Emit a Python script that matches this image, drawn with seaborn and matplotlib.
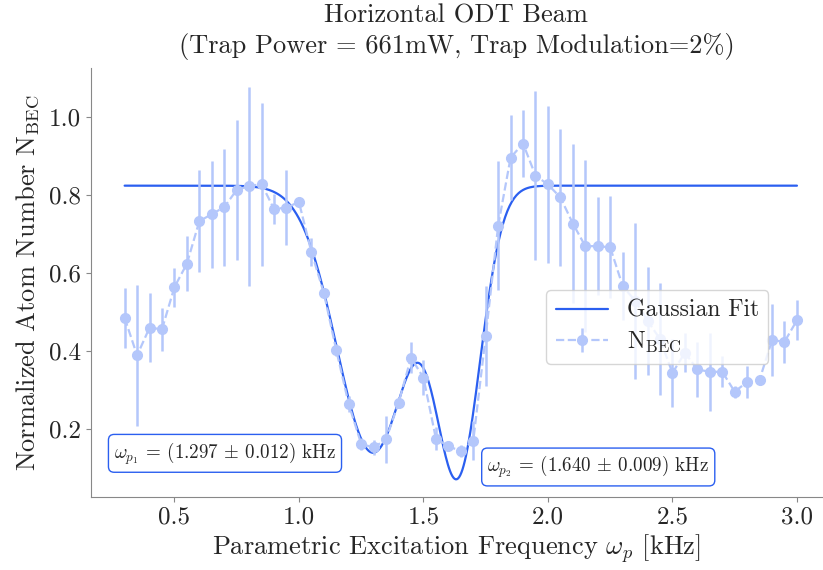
import numpy as np
import pandas as pd
import matplotlib
matplotlib.use("Agg")
import matplotlib.pyplot as plt
import seaborn as sns

# ---- data ----
freq = [0.30, 0.35, 0.40, 0.45, 0.50, 0.55, 0.60, 0.65, 0.70, 0.75,
        0.80, 0.85, 0.90, 0.95, 1.00, 1.05, 1.10, 1.15, 1.20, 1.25,
        1.30, 1.35, 1.40, 1.45, 1.50, 1.55, 1.60, 1.65, 1.70, 1.75,
        1.80, 1.85, 1.90, 1.95, 2.00, 2.05, 2.10, 2.15, 2.20, 2.25,
        2.30, 2.35, 2.40, 2.45, 2.50, 2.55, 2.60, 2.65, 2.70, 2.75,
        2.80, 2.85, 2.90, 2.95, 3.00]
n_bec = [0.485, 0.389, 0.460, 0.456, 0.564, 0.624, 0.733, 0.751, 0.769, 0.813,
         0.823, 0.828, 0.764, 0.768, 0.782, 0.654, 0.549, 0.402, 0.264, 0.162,
         0.153, 0.174, 0.267, 0.383, 0.332, 0.176, 0.156, 0.144, 0.170, 0.438,
         0.721, 0.896, 0.932, 0.850, 0.827, 0.794, 0.727, 0.669, 0.669, 0.666,
         0.567, 0.529, 0.478, 0.431, 0.344, 0.396, 0.353, 0.347, 0.347, 0.296,
         0.321, 0.327, 0.428, 0.424, 0.479]
n_err = [0.077, 0.180, 0.088, 0.055, 0.050, 0.070, 0.130, 0.137, 0.150, 0.180,
         0.255, 0.209, 0.038, 0.095, 0.010, 0.035, 0.012, 0.015, 0.020, 0.015,
         0.020, 0.060, 0.012, 0.040, 0.045, 0.030, 0.010, 0.015, 0.050, 0.128,
         0.165, 0.110, 0.087, 0.216, 0.200, 0.175, 0.204, 0.220, 0.125, 0.131,
         0.088, 0.200, 0.138, 0.143, 0.088, 0.050, 0.070, 0.100, 0.040, 0.015,
         0.040, 0.010, 0.092, 0.054, 0.051]

# Gaussian fit parameters (double-dip fit)
fit_offset = 0.824
fit_amp = [0.684, 0.708]
fit_mu = [1.297, 1.640]
fit_mu_err = [0.012, 0.009]
fit_sigma = [0.145, 0.090]

fit_color = "#2b5ff0"
data_color = "#b4c7fb"

sns.set_style("ticks")
plt.rcParams["font.family"] = "serif"
plt.rcParams["font.serif"] = ["cmr10"]
plt.rcParams["mathtext.fontset"] = "cm"
plt.rcParams["axes.unicode_minus"] = False
plt.rcParams["axes.formatter.use_mathtext"] = True

fig = plt.figure(figsize=(8.23, 5.70), dpi=100)
ax = fig.add_axes([0.1106, 0.128, 0.888, 0.753])

xf = np.linspace(min(freq), max(freq), 600)
yf = fit_offset - sum(a * np.exp(-(xf - m) ** 2 / (2 * s ** 2))
                      for a, m, s in zip(fit_amp, fit_mu, fit_sigma))
fit_df = pd.DataFrame({"x": xf, "y": yf})
sns.lineplot(data=fit_df, x="x", y="y", ax=ax, color=fit_color, lw=1.6,
             label="Gaussian Fit")

ax.errorbar(freq, n_bec, yerr=n_err, fmt="o--", color=data_color,
            ms=7, lw=1.6, elinewidth=1.8, capsize=0,
            label=r"$\mathrm{N}_{\mathrm{BEC}}$")

ax.set_xlim(0.165, 3.10)
ax.set_ylim(0.026, 1.126)
ax.set_xticks([0.5, 1.0, 1.5, 2.0, 2.5, 3.0])
ax.set_xticklabels(["0.5", "1.0", "1.5", "2.0", "2.5", "3.0"])
ax.set_yticks([0.2, 0.4, 0.6, 0.8, 1.0])
ax.set_yticklabels(["0.2", "0.4", "0.6", "0.8", "1.0"])
ax.tick_params(labelsize=18, color="#888888")
for s in ["left", "bottom"]:
    ax.spines[s].set_color("#888888")
sns.despine(ax=ax)

ax.set_xlabel(r"Parametric Excitation Frequency $\omega_p$ [kHz]", fontsize=19, labelpad=2)
ax.set_ylabel(r"Normalized Atom Number $\mathrm{N}_{\mathrm{BEC}}$", fontsize=19, labelpad=6)
ax.set_title("Horizontal ODT Beam\n(Trap Power = 661mW, Trap Modulation=2%)",
             fontsize=19, pad=11, linespacing=1.25)

box = dict(boxstyle="round,pad=0.3", fc="white", ec=fit_color, lw=1.0)
ax.text(0.703, 0.138,
        r"$\omega_{p_1}$ = (" + f"{fit_mu[0]:.3f}" + r" $\pm$ " + f"{fit_mu_err[0]:.3f}" + ") kHz",
        fontsize=13.7, ha="center", va="center", bbox=box)
ax.text(2.202, 0.103,
        r"$\omega_{p_2}$ = (" + f"{fit_mu[1]:.3f}" + r" $\pm$ " + f"{fit_mu_err[1]:.3f}" + ") kHz",
        fontsize=13.7, ha="center", va="center", bbox=box)

leg = ax.legend(loc="center right", bbox_to_anchor=(0.943, 0.396), fontsize=17,
                frameon=True, framealpha=0.8, edgecolor="#cccccc",
                handlelength=2.2, borderpad=0.4, labelspacing=0.35)

fig.savefig("out.png", dpi=100)
